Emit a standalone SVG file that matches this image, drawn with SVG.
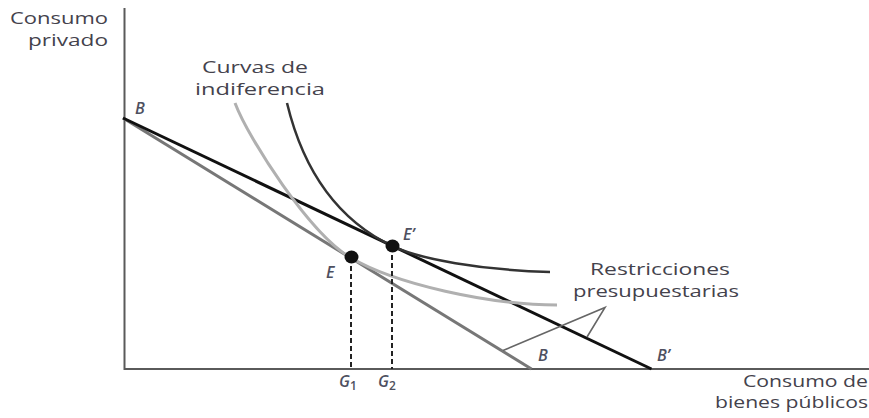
<svg xmlns="http://www.w3.org/2000/svg" width="869" height="418" viewBox="0 0 869 418">
<style>
.lbl{font-family:"Open Sans","Liberation Sans",sans-serif;font-size:16px;fill:#44424c}
.it{font-family:"Open Sans","Liberation Sans",sans-serif;font-style:italic;font-weight:600;font-size:16px;fill:#4e5060}
.axis{stroke:#5a5a5a;stroke-width:2;fill:none}
.dash{stroke:#222;stroke-width:2;stroke-dasharray:5,3;fill:none}
.ann{stroke:#666;stroke-width:1.6;fill:none}
</style>
<rect width="869" height="418" fill="#fff"/>
<g id="axes">
<path class="axis" d="M124.5,8 V369 H869"/>
</g>
<g id="axis-labels">
<text class="lbl" x="10" y="24" textLength="98" lengthAdjust="spacingAndGlyphs">Consumo</text>
<text class="lbl" x="28" y="46" textLength="80" lengthAdjust="spacingAndGlyphs">privado</text>
<text class="lbl" x="743" y="387" textLength="125" lengthAdjust="spacingAndGlyphs">Consumo de</text>
<text class="lbl" x="715" y="408" textLength="153" lengthAdjust="spacingAndGlyphs">bienes públicos</text>
</g>
<g id="connectors">
<path id="budget-B" d="M123,118 L531.5,369" stroke="#777" stroke-width="3" fill="none"/>
<path id="budget-Bp" d="M123,118 L651.5,369" stroke="#111" stroke-width="3" fill="none"/>
<path id="indiff-1" d="M235,103 C249,140 310,233.3 350,257.3 C395,284.3 490,305 557,305" stroke="#b0b0b0" stroke-width="3" fill="none"/>
<path id="indiff-2" d="M287,103 C308,190 353,227.4 393,246.4 C420,259 480,270 550,272" stroke="#333" stroke-width="2.5" fill="none"/>
<path class="dash" d="M351,258 V369"/>
<path class="dash" d="M392,247 V369"/>
<path class="ann" d="M503,350.5 L605,307.5 L587,337"/>
</g>
<g id="point-E">
<ellipse cx="351.5" cy="257" rx="7" ry="6.5" fill="#111"/>
<text class="it" x="326" y="278">E</text>
</g>
<g id="point-Ep">
<ellipse cx="392.5" cy="246" rx="7" ry="6.5" fill="#111"/>
<text class="it" x="403" y="240">E’</text>
</g>
<g id="label-B-top"><text class="it" x="135" y="114">B</text></g>
<g id="label-B"><text class="it" x="538" y="361">B</text></g>
<g id="label-Bp"><text class="it" x="657" y="361">B’</text></g>
<g id="label-G1"><text class="it" x="339" y="387">G<tspan font-size="12" dy="3" font-style="normal">1</tspan></text></g>
<g id="label-G2"><text class="it" x="378" y="387">G<tspan font-size="12" dy="3" font-style="normal">2</tspan></text></g>
<g id="label-curvas">
<text class="lbl" x="202" y="73" textLength="106" lengthAdjust="spacingAndGlyphs">Curvas de</text>
<text class="lbl" x="195" y="95" textLength="130" lengthAdjust="spacingAndGlyphs">indiferencia</text>
</g>
<g id="label-restricciones">
<text class="lbl" x="590" y="275" textLength="140" lengthAdjust="spacingAndGlyphs">Restricciones</text>
<text class="lbl" x="573" y="297" textLength="166" lengthAdjust="spacingAndGlyphs">presupuestarias</text>
</g>
</svg>
